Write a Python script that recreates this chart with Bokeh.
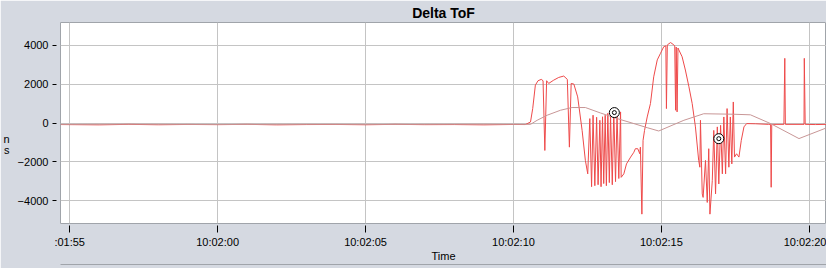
from bokeh.plotting import figure
from bokeh.models import FixedTicker, Range1d, LinearAxis
from bokeh.embed import file_html
from bokeh.resources import INLINE

# ---- data (time in seconds relative to 10:02:00, values in ns) ----
tick_seconds = [-5, 0, 5, 10, 15, 20]
# first label is cut by the plot box in the original chart
tick_labels = [":01:55", "10:02:00", "10:02:05", "10:02:10", "10:02:15", "10:02:20"]
y_ticks = [-4000, -2000, 0, 2000, 4000]

tof_t = [-5.3, -4.0, -3.0, -2.0, -1.0, 0.0, 1.0, 2.0, 3.0, 4.0, 5.0, 6.0, 7.0, 8.0, 9.0, 10.0, 10.4,
         10.575, 10.65, 10.74, 10.83, 10.94, 11.00, 11.06, 11.12, 11.19, 11.36, 11.53, 11.70, 11.82,
         11.89, 11.95, 12.04, 12.17, 12.32, 12.43, 12.51,
         12.58, 12.64, 12.69, 12.75, 12.81, 12.86, 12.92, 12.96, 13.01, 13.05, 13.10, 13.14,
         13.19, 13.24, 13.28, 13.34, 13.39, 13.45, 13.50, 13.56, 13.62,
         13.64, 13.73, 13.82, 13.96, 14.07, 14.12, 14.20, 14.27, 14.29, 14.34, 14.38, 14.43,
         14.52, 14.63, 14.74, 14.86, 14.97, 15.08, 15.15, 15.17, 15.20, 15.31, 15.42, 15.45,
         15.48, 15.50, 15.53, 15.56, 15.59, 15.70, 15.81, 15.93, 16.04, 16.15, 16.26, 16.30,
         16.32, 16.38, 16.41, 16.49, 16.55, 16.60, 16.64, 16.72, 16.77, 16.83, 16.89, 16.94,
         17.00, 17.06, 17.11, 17.17, 17.22, 17.28, 17.33, 17.38, 17.43, 17.47, 17.54, 17.62,
         17.70, 17.79, 17.88, 18.18, 18.62, 18.69, 18.71, 18.73, 19.14, 19.17, 19.19,
         19.82, 19.83, 19.86, 20.2, 20.58]
tof_v = [-80, -95, -70, -90, -75, -85, -70, -95, -80, -75, -90, -70, -85, -80, -95, -75, -80,
         50, 740, 1945, 2170, 2240, 2170, -1410, 2170, 2030, 2200, 2340, 2410, 2240,
         -1240, 2030, 2000, 1340, -380, -1920, -2610,
         225, -3270, 400, -3220, 295, -3170, 140, -3270, 320, -3110, 400, -3220,
         500, -3060, 450, -3170, 655, -3010, 450, -2850, 570,
         -2790, -2610, -2100, -1750, -1500, -1320, -1320, -1580, -1240, -4680, -890, -380,
         310, 1000, 2370, 3240, 3580, 3920, 3960, 740, 4010, 4130, 4010, 3960,
         655, 3900, 570, 3850, 3750, 3400, 2720, 1860, 1000, -200, -1920, -2270,
         140, -3640, -3820, -1920, -4080, -1320, -4680, -2960, -380, -3640, -200, -3130,
         -120, -2610, 310, -2610, 740, -2270, 310, -2100, 1080, -1750, -1580, -1750,
         -890, -200, -30, -40, -70, -70, -3300, -70, -70, 3320, -70,
         -70, 3320, -70, -80, -70]

ref_t = [-5.3, -3.0, 0.0, 3.0, 6.0, 9.0, 10.575, 10.80, 11.14, 11.59, 11.98, 12.43, 12.94, 13.51,
         14.07, 14.52, 14.91, 15.76, 16.43, 17.45, 18.01, 18.69, 19.65, 20.58]
ref_v = [-70, -60, -75, -65, -70, -60, -70, 140, 400, 655, 795, 795, 515, 225,
         -30, -240, -410, 140, 475, 450, 420, -30, -800, -250]

mark_t = [13.41, 16.94]
mark_v = [535, -805]

BG = "#d5d9e1"
BORDER = "#a0a4aa"
FONT = "Liberation Sans"

p = figure(width=826, height=268, output_backend="svg", toolbar_location=None,
           x_range=Range1d(-5.31, 20.58), y_range=Range1d(-5160, 5160),
           min_border_left=60, min_border_right=0, min_border_top=22, min_border_bottom=45,
           title="Delta ToF")
p.background_fill_color = "white"
p.border_fill_color = BG
p.outline_line_color = BORDER

p.title.align = "center"
p.title.offset = -30
p.title.text_font = FONT
p.title.text_font_size = "14px"
p.title.text_font_style = "bold"
p.title.text_color = "black"
p.title.standoff = 3

p.line(tof_t, tof_v, line_color="#ee4a4a", line_width=1)
p.line(ref_t, ref_v, line_color="#c89696", line_width=1)
p.scatter(mark_t, mark_v, size=10, fill_color="white", line_color="black", line_width=1)
p.scatter(mark_t, mark_v, size=4, fill_color="white", line_color="black", line_width=1)

p.xaxis.ticker = FixedTicker(ticks=tick_seconds)
p.xaxis.major_label_overrides = {t: l for t, l in zip(tick_seconds, tick_labels)}
p.yaxis.ticker = FixedTicker(ticks=y_ticks)
p.xaxis.minor_tick_line_color = None
p.yaxis.minor_tick_line_color = None
p.axis.axis_line_color = None
p.axis.major_tick_line_color = "black"
p.axis.major_label_text_font = FONT
p.axis.major_label_text_font_size = "11px"
p.axis.major_label_text_color = "black"
p.xaxis.major_tick_in = -2
p.xaxis.major_tick_out = 9
p.xaxis.major_label_standoff = 3
p.yaxis.major_tick_in = -4
p.yaxis.major_tick_out = 8
p.yaxis.major_label_standoff = 4
p.xaxis.axis_label = "Time"
p.xaxis.axis_label_text_font = FONT
p.xaxis.axis_label_text_font_size = "11px"
p.xaxis.axis_label_text_font_style = "normal"
p.xaxis.axis_label_text_color = "black"
p.xaxis.axis_label_standoff = -1

p.yaxis.axis_label = "\n\n\n\nn\ns"
p.yaxis.axis_label_orientation = "horizontal"
p.yaxis.axis_label_text_font = FONT
p.yaxis.axis_label_text_font_size = "11px"
p.yaxis.axis_label_text_font_style = "normal"
p.yaxis.axis_label_text_color = "black"
p.yaxis.axis_label_text_line_height = 0.9
p.yaxis.axis_label_standoff = 5

p.grid.grid_line_color = "#c4c4c4"

# bottom edge of the box that encloses plot and time axis
edge = LinearAxis(major_tick_line_color=None, minor_tick_line_color=None,
                  major_label_text_font_size="0px", axis_line_color=BORDER,
                  ticker=FixedTicker(ticks=[]))
p.add_layout(edge, "below")

open("out.html", "w").write(file_html(p, INLINE))
